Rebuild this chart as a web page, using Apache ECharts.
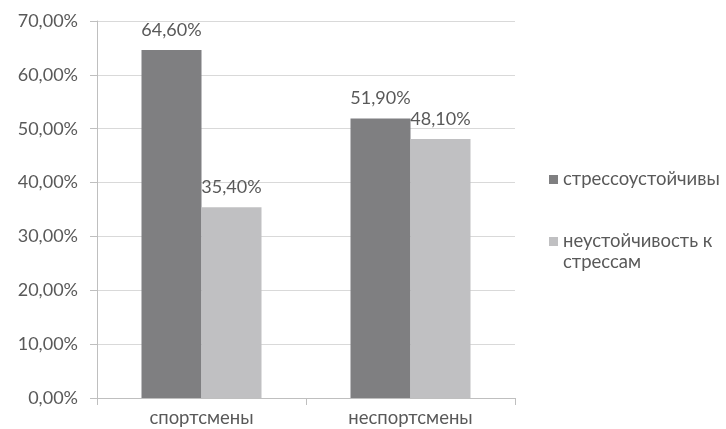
<!DOCTYPE html>
<html>
<head>
<meta charset="utf-8">
<script src="https://cdn.jsdelivr.net/npm/echarts@6/dist/echarts.min.js"></script>
<style>
  html, body { margin: 0; padding: 0; background: #ffffff; }
  #chart { width: 726px; height: 429px; }
</style>
</head>
<body>
<div id="chart"></div>
<script>
// Groups along the horizontal axis
const categories = ['спортсмены', 'неспортсмены'];
// Series names and their shares, percent
const seriesNames = ['стрессоустойчивы', 'неустойчивость к стрессам'];
const stressResistant = [64.6, 51.9];
const notResistant = [35.4, 48.1];
// Value-axis range, percent
const yMin = 0;
const yMax = 70;
const yStep = 10;

const fontFamily = 'Lato, "Open Sans", sans-serif';
const textColor = '#595959';

function pct(v) {
  return v.toFixed(2).replace('.', ',') + '%';
}

const chart = echarts.init(document.getElementById('chart'), null, { renderer: 'canvas' });

const labelStyle = {
  show: true,
  position: 'top',
  distance: 11,
  color: textColor,
  fontSize: 18,
  fontFamily: fontFamily,
  formatter: p => pct(p.value)
};

chart.setOption({
  animation: false,
  backgroundColor: '#ffffff',
  grid: { left: 97, right: 211, top: 21, bottom: 31, containLabel: false },
  legend: {
    orient: 'vertical',
    left: 549,
    top: 169,
    padding: 0,
    itemWidth: 9,
    itemHeight: 9,
    itemGap: 20,
    icon: 'rect',
    textStyle: { color: textColor, fontSize: 18.5, fontFamily: fontFamily, lineHeight: 21 },
    // the wrapped name gets an empty first line so the swatch sits beside its first text line
    formatter: name => name === seriesNames[1] ? ' \nнеустойчивость к\nстрессам' : name,
    data: seriesNames
  },
  xAxis: {
    type: 'category',
    data: categories,
    axisLine: { show: true, lineStyle: { color: '#bfbfbf', width: 1 } },
    axisTick: { show: true, length: 7, alignWithLabel: false, lineStyle: { color: '#bfbfbf' } },
    axisLabel: { color: textColor, fontSize: 18.5, fontFamily: fontFamily, margin: 11 }
  },
  yAxis: {
    type: 'value',
    min: yMin,
    max: yMax,
    interval: yStep,
    axisLine: { show: true, lineStyle: { color: '#bfbfbf', width: 1 } },
    axisTick: { show: true, length: 7, inside: false, lineStyle: { color: '#bfbfbf' } },
    splitLine: { show: true, lineStyle: { color: '#d9d9d9', width: 1 } },
    axisLabel: { color: textColor, fontSize: 18, fontFamily: fontFamily, margin: 19, formatter: v => pct(v) }
  },
  series: [
    {
      name: seriesNames[0],
      type: 'bar',
      data: stressResistant,
      barWidth: 60,
      barGap: '0%',
      itemStyle: { color: '#7f7f81' },
      label: labelStyle
    },
    {
      name: seriesNames[1],
      type: 'bar',
      data: notResistant,
      barWidth: 60,
      barGap: '0%',
      itemStyle: { color: '#c0c0c2' },
      label: labelStyle
    }
  ]
});
</script>
</body>
</html>
